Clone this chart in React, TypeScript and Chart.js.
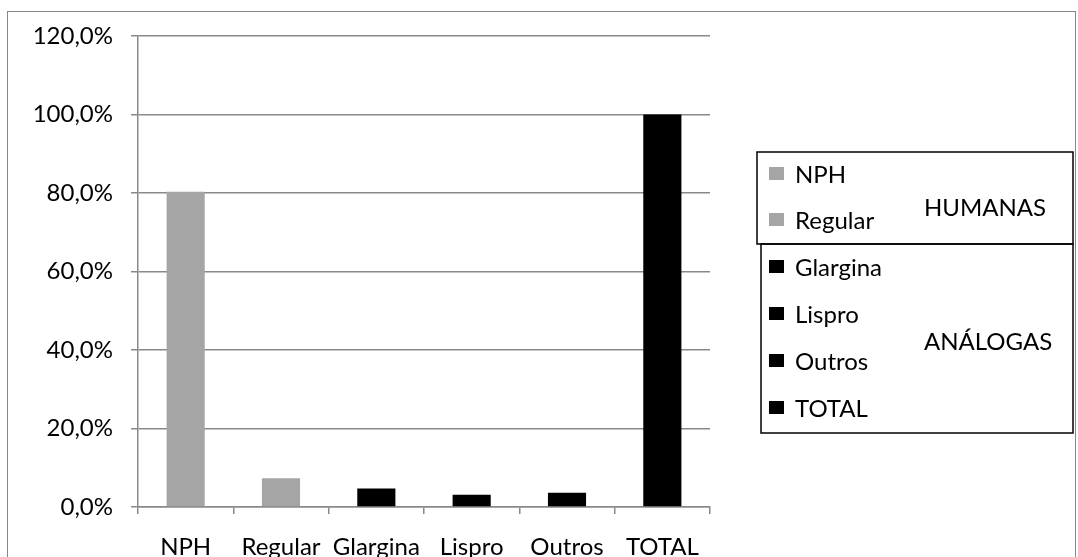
import React, { useEffect, useRef } from 'react';
import { Chart, registerables } from 'chart.js';

Chart.register(...registerables);

const categories = ['NPH', 'Regular', 'Glargina', 'Lispro', 'Outros', 'TOTAL'];
const values = [80.3, 7.3, 4.7, 3.1, 3.6, 100];
const barColors = ['#a5a5a5', '#a5a5a5', '#000000', '#000000', '#000000', '#000000'];
const groupLabels = ['HUMANAS', 'ANÁLOGAS'];
const groupSizes = [2, 4];
const yMin = 0;
const yMax = 120;
const yStep = 20;

const FONT = 'Lato';
const GRID = '#898989';

const legendPlugin = {
  id: 'groupedLegend',
  afterDraw(chart: any) {
    const ctx = chart.ctx;
    ctx.save();
    const boxes = [
      { x: 757, y: 152, w: 316, h: 92 },
      { x: 761, y: 244, w: 312, h: 189 },
    ];
    const rowY = [174, 220, 267, 314, 361, 408];
    const groupY = [208, 342];
    ctx.strokeStyle = '#000';
    ctx.lineWidth = 1.5;
    boxes.forEach((b) => ctx.strokeRect(b.x, b.y, b.w, b.h));
    ctx.font = `24px ${FONT}`;
    ctx.textBaseline = 'middle';
    ctx.textAlign = 'left';
    categories.forEach((c, i) => {
      ctx.fillStyle = barColors[i];
      ctx.fillRect(769, rowY[i] - 7, 15, 13);
      ctx.fillStyle = '#000';
      ctx.fillText(c, 795, rowY[i] + 1);
    });
    let start = 0;
    groupLabels.forEach((g, gi) => {
      ctx.fillStyle = '#000';
      ctx.fillText(g, 924, groupY[gi]);
      start += groupSizes[gi];
    });
    ctx.restore();
  },
};

export default function App() {
  const ref = useRef<HTMLCanvasElement>(null);
  useEffect(() => {
    const canvas = ref.current!;
    const chart = new Chart(canvas, {
      type: 'bar',
      data: {
        labels: categories,
        datasets: [
          {
            data: values,
            backgroundColor: barColors,
            borderWidth: 0,
            barPercentage: 0.4,
            categoryPercentage: 1,
          },
        ],
      },
      options: {
        responsive: false,
        animation: false,
        devicePixelRatio: 1,
        layout: { padding: { left: 0, top: 36, right: 368, bottom: 0 } },
        plugins: { legend: { display: false }, tooltip: { enabled: false } },
        scales: {
          x: {
            offset: true,
            grid: {
              offset: true,
              drawOnChartArea: false,
              drawTicks: true,
              tickLength: 7,
              color: GRID,
              lineWidth: 1.5,
            },
            border: { display: true, color: GRID, width: 1.5 },
            ticks: {
              color: '#000',
              font: { family: FONT, size: 24 },
              padding: 19,
              maxRotation: 0,
              autoSkip: false,
            },
            afterFit: (s: any) => {
              s.height = 50;
            },
          },
          y: {
            min: yMin,
            max: yMax,
            ticks: {
              stepSize: yStep,
              color: '#000',
              font: { family: FONT, size: 24 },
              padding: 18,
              callback: (v: any) => Number(v).toFixed(1).replace('.', ',') + '%',
            },
            grid: {
              color: GRID,
              lineWidth: 1.5,
              tickLength: 7,
              drawTicks: true,
            },
            border: { display: true, color: GRID, width: 1.5 },
            afterFit: (s: any) => {
              s.width = 138;
            },
          },
        },
      },
      plugins: [legendPlugin],
    });
    return () => chart.destroy();
  }, []);

  return (
    <div style={{ position: 'fixed', left: 0, top: 0, width: 1078, height: 557, overflow: 'hidden', background: '#fff' }}>
      <div
        style={{
          position: 'absolute',
          left: 7,
          top: 11,
          width: 1069,
          height: 600,
          border: '1.5px solid #868686',
          boxSizing: 'border-box',
        }}
      />
      <canvas ref={ref} width={1078} height={557} style={{ position: 'absolute', left: 0, top: 0, width: 1078, height: 557 }} />
    </div>
  );
}
